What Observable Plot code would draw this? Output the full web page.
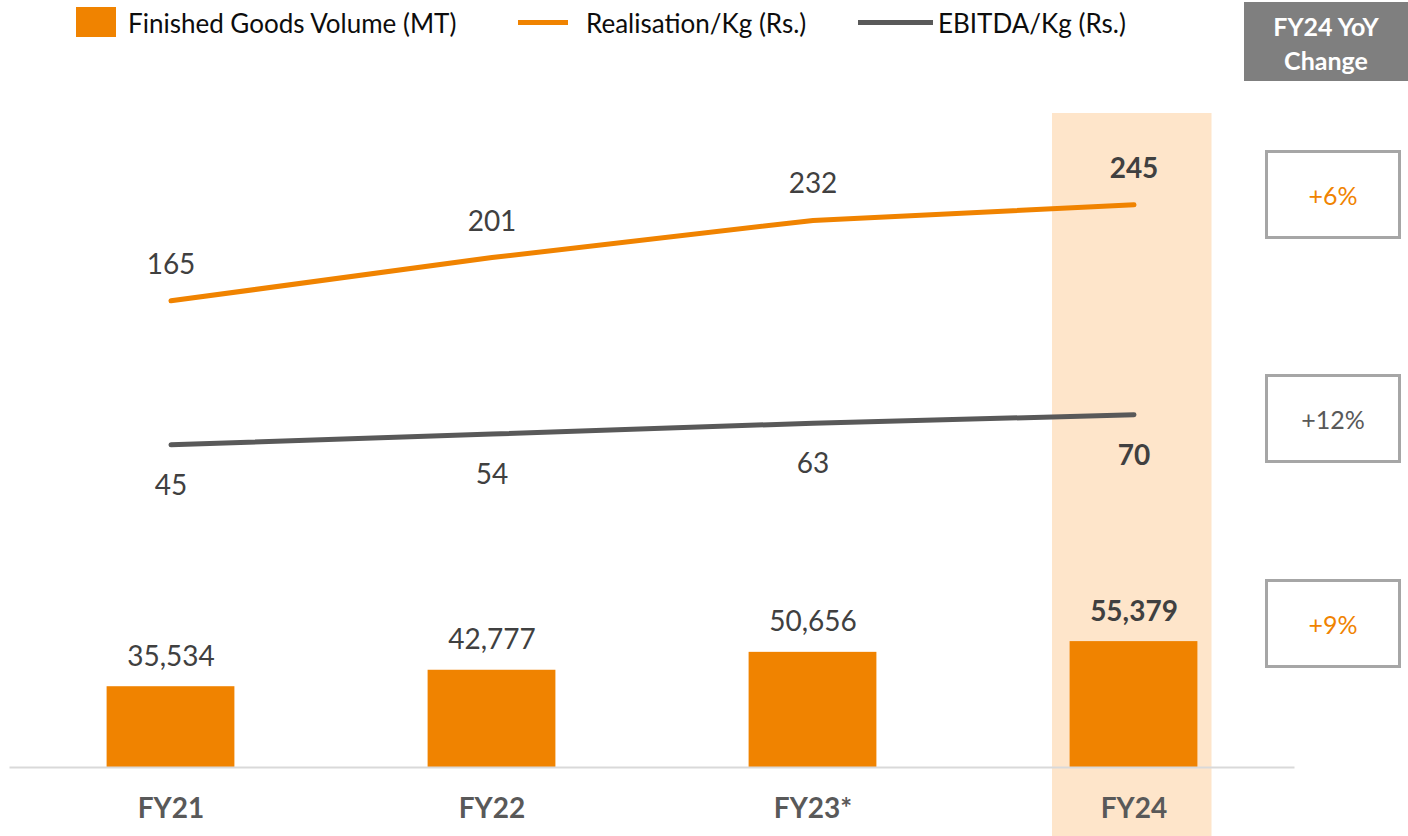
<!DOCTYPE html>
<html>
<head>
<meta charset="utf-8">
<script src="https://cdn.jsdelivr.net/npm/d3@7"></script>
<script src="https://cdn.jsdelivr.net/npm/@observablehq/plot@0.6"></script>
<style>
  html, body { margin: 0; padding: 0; background: #fff; }
  body { font-family: Lato, "Open Sans", sans-serif; }
  #wrap { position: relative; width: 1408px; height: 836px; overflow: hidden; }
  #wrap svg { position: absolute; left: 0; top: 0; }
  .abs { position: absolute; }
  .leg-text { font-size: 26px; color: #0d0d0d; line-height: 26px; white-space: nowrap; }
  .hdr { left: 1244px; top: 2px; width: 164px; height: 79px; background: #7f7f7f; color: #fff;
         font-weight: 700; font-size: 25px; line-height: 34px; text-align: center; padding-top: 3px; box-sizing: border-box;
         display: flex; flex-direction: column; justify-content: center; }
  .box { left: 1265px; width: 136px; height: 89px; border: 3px solid #a6a6a6; box-sizing: border-box;
         display: flex; align-items: center; justify-content: center; font-size: 25px; background: #fff; }
</style>
</head>
<body>
<div id="wrap"></div>
<script>
// ---- data ----
const years = ["FY21", "FY22", "FY23*", "FY24"];
const volume = [35534, 42777, 50656, 55379];        // Finished Goods Volume (MT)
const realisation = [165, 201, 232, 245];           // Realisation/Kg (Rs.)
const ebitda = [45, 54, 63, 70];                    // EBITDA/Kg (Rs.)
const highlightYear = "FY24";
const yoyLabels = ["+6%", "+12%", "+9%"];
const yoyColors = ["#f08300", "#595959", "#f08300"];
const legendLabels = ["Finished Goods Volume (MT)", "Realisation/Kg (Rs.)", "EBITDA/Kg (Rs.)"];

const ORANGE = "#f08300", GRAY = "#595959", LABEL = "#404040";
const rows = years.map((y, i) => ({year: y, volume: volume[i], real: realisation[i], ebitda: ebitda[i]}));
const fmt = d3.format(",");
const isHL = d => d.year === highlightYear;
const notHL = d => d.year !== highlightYear;

const common = {
  width: 1408, height: 836,
  marginLeft: 9.5, marginRight: 113.5,
  style: {background: "transparent", fontFamily: "Lato, 'Open Sans', sans-serif", overflow: "visible"}
};
const xBase = {type: "band", domain: years, padding: 0};
const wrap = document.getElementById("wrap");

// Layer 1: highlight column
wrap.append(Plot.plot({
  ...common,
  marginTop: 113, marginBottom: 0,
  y: {domain: [0, 1], axis: null},
  x: {...xBase, axis: null},
  marks: [
    Plot.barY([{year: highlightYear}], {x: "year", y1: 0, y2: 1, fill: "#fee5ca", insetLeft: 79, insetRight: 82.5})
  ]
}));

// Layer 2: volume bars + x axis
wrap.append(Plot.plot({
  ...common,
  marginTop: 630.6, marginBottom: 69,
  y: {domain: [0, 60000], axis: null},
  x: {...xBase, axis: "bottom", tickSize: 0, tickPadding: 31, label: null},
  marks: [
    Plot.barY(rows, {x: "year", y: "volume", fill: ORANGE, insetLeft: 96.6, insetRight: 96.6}),
    Plot.ruleY([0], {stroke: "#d9d9d9", strokeWidth: 2}),
    Plot.text(rows.filter(notHL), {x: "year", y: "volume", text: d => fmt(d.volume), dy: -30, fontSize: 28, fill: LABEL}),
    Plot.text(rows.filter(isHL), {x: "year", y: "volume", text: d => fmt(d.volume), dy: -30, fontSize: 28, fontWeight: 700, fill: LABEL})
  ]
}));

// Layer 3: per-kg lines
wrap.append(Plot.plot({
  ...common,
  marginTop: 138.3, marginBottom: 337.7,
  y: {domain: [0, 300], axis: null},
  x: {...xBase, axis: null},
  marks: [
    Plot.line(rows, {x: "year", y: "real", stroke: ORANGE, strokeWidth: 5, strokeLinecap: "round"}),
    Plot.line(rows, {x: "year", y: "ebitda", stroke: GRAY, strokeWidth: 5, strokeLinecap: "round"}),
    Plot.text(rows.filter(notHL), {x: "year", y: "real", text: "real", dy: -36, fontSize: 28, fill: LABEL}),
    Plot.text(rows.filter(isHL), {x: "year", y: "real", text: "real", dy: -36, fontSize: 28, fontWeight: 700, fill: LABEL}),
    Plot.text(rows.filter(notHL), {x: "year", y: "ebitda", text: "ebitda", dy: 41, fontSize: 28, fill: LABEL}),
    Plot.text(rows.filter(isHL), {x: "year", y: "ebitda", text: "ebitda", dy: 41, fontSize: 28, fontWeight: 700, fill: LABEL})
  ]
}));

// style axis tick labels
wrap.querySelectorAll("svg g[aria-label='x-axis tick label']").forEach(g => {
  g.setAttribute("font-size", 28); g.setAttribute("font-weight", 700); g.setAttribute("fill", GRAY);
});

// Legend (HTML, above chart area)
function addEl(cls, css, html) {
  const d = document.createElement("div");
  d.className = "abs " + (cls || "");
  Object.assign(d.style, css);
  if (html != null) d.innerHTML = html;
  wrap.append(d);
  return d;
}
addEl("", {left: "76px", top: "7px", width: "40px", height: "30px", background: ORANGE});
addEl("leg-text", {left: "128px", top: "10px"}, legendLabels[0]);
addEl("", {left: "518px", top: "20px", width: "50px", height: "5px", background: ORANGE});
addEl("leg-text", {left: "586px", top: "10px"}, legendLabels[1]);
addEl("", {left: "858px", top: "20px", width: "75px", height: "5px", background: GRAY});
addEl("leg-text", {left: "938px", top: "10px"}, legendLabels[2]);

// Right-hand YoY panel
addEl("hdr", {}, "<div>FY24 YoY</div><div>Change</div>");
const boxTops = [150, 374, 579];
yoyLabels.forEach((t, i) => addEl("box", {top: boxTops[i] + "px", color: yoyColors[i]}, t));
</script>
</body>
</html>
